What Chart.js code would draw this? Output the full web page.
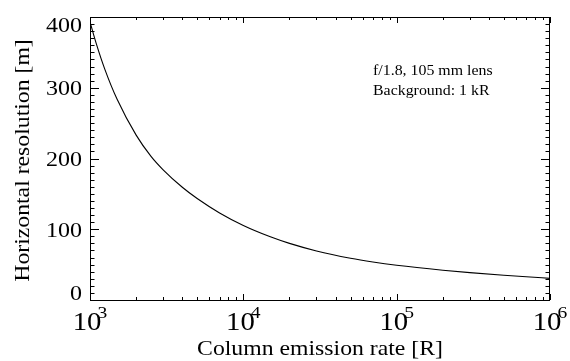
<!DOCTYPE html>
<html>
<head>
<meta charset="utf-8">
<script src="https://cdn.jsdelivr.net/npm/chart.js@4.4.1/dist/chart.umd.min.js"></script>
<style>
  html, body { margin: 0; padding: 0; background: #fff; }
  #wrap { width: 570px; height: 361px; font-family: "Liberation Serif", "Times New Roman", serif; }
</style>
</head>
<body>
<div id="wrap"><canvas id="chart" width="570" height="361"></canvas></div>
<script>
// ── data ──
const emission = [1000, 1100, 1250, 1500, 2000, 2500, 3000, 4000, 5000, 7000,
  10000, 15000, 20000, 30000, 50000, 70000, 100000, 200000, 300000, 500000, 700000, 1000000];
const resolution = [393, 362, 326, 284, 233, 203, 184, 159.3, 143.4, 123.0,
  105.3, 89.3, 80.0, 69.3, 59.0, 53.7, 49.1, 42.1, 38.7, 35.0, 32.8, 30.6];

const yTicks = [0, 100, 200, 300, 400];
const xDecades = [1e3, 1e4, 1e5, 1e6];
const xExponents = ["3", "4", "5", "6"];
const noteLines = ["f/1.8, 105 mm lens", "Background: 1 kR"];
const xTitle = "Column emission rate [R]";
const yTitle = "Horizontal resolution [m]";

const FONT = "'Liberation Serif', 'Times New Roman', Times, serif";

function txt(ctx, s, x, y, size, align, sx) {
  ctx.save();
  ctx.translate(x, y);
  ctx.scale(sx, 1);
  ctx.font = size + "px " + FONT;
  ctx.textAlign = align;
  ctx.textBaseline = "alphabetic";
  ctx.fillStyle = "#000";
  ctx.fillText(s, 0, 0);
  ctx.restore();
}

// IDL-style frame: box, inward ticks on all sides, labels
const idlAxes = {
  id: "idlAxes",
  afterDraw(chart) {
    const ctx = chart.ctx;
    const a = chart.chartArea;
    const xs = chart.scales.x;
    const ys = chart.scales.y;
    ctx.save();
    ctx.strokeStyle = "#000";
    ctx.lineWidth = 1;
    ctx.strokeRect(a.left + 0.5, a.top + 0.5, a.right - a.left - 1, a.bottom - a.top);

    ctx.beginPath();
    // y ticks (major every 100, minor every 10)
    for (let v = 0; v <= 400; v += 10) {
      const y = Math.round(ys.getPixelForValue(v)) + 0.5;
      const len = v % 100 === 0 ? 9 : 4.5;
      ctx.moveTo(a.left, y); ctx.lineTo(a.left + len, y);
      ctx.moveTo(a.right, y); ctx.lineTo(a.right - len, y);
    }
    // x ticks (decades major, 2..9 minor)
    xDecades.forEach((d) => {
      for (let k = 1; k <= 9; k++) {
        const v = d * k;
        if (v > 1e6) break;
        const x = Math.round(xs.getPixelForValue(v)) + 0.5;
        const len = k === 1 ? 6 : 3;
        ctx.moveTo(x, a.bottom); ctx.lineTo(x, a.bottom - len);
        ctx.moveTo(x, a.top); ctx.lineTo(x, a.top + len);
      }
    });
    ctx.stroke();

    // y tick labels
    yTicks.forEach((v) => {
      let y = ys.getPixelForValue(v) + 7.5;
      if (v === 0) y = a.bottom;
      if (v === 400) y = a.top + 14.5;
      txt(ctx, String(v), 82, y, 20, "right", 1.2);
    });

    // x tick labels 10^n
    xDecades.forEach((d, i) => {
      const x = xs.getPixelForValue(d);
      ctx.font = "25px " + FONT;
      const w10 = ctx.measureText("10").width * 1.15;
      ctx.font = "17px " + FONT;
      const we = ctx.measureText(xExponents[i]).width * 1.15;
      const left = x - (w10 + we - 4) / 2;
      txt(ctx, "10", left, 330, 25, "left", 1.15);
      txt(ctx, xExponents[i], left + w10 - 4, 318, 17, "left", 1.15);
    });

    // axis titles
    txt(ctx, xTitle, (a.left + a.right) / 2, 355, 21, "center", 1.13);
    ctx.save();
    ctx.translate(29, 160.5);
    ctx.rotate(-Math.PI / 2);
    txt(ctx, yTitle, 0, 0, 21, "center", 1.13);
    ctx.restore();

    // annotation
    txt(ctx, noteLines[0], 373, 75, 15, "left", 1.06);
    txt(ctx, noteLines[1], 373, 95, 15, "left", 1.06);
    ctx.restore();
  },
};

function build() {
  new Chart(document.getElementById("chart"), {
    type: "line",
    data: {
      datasets: [
        {
          data: emission.map((e, i) => ({ x: e, y: resolution[i] })),
          borderColor: "#000",
          borderWidth: 1.1,
          pointRadius: 0,
          cubicInterpolationMode: "monotone",
          fill: false,
        },
      ],
    },
    options: {
      responsive: false,
      animation: false,
      devicePixelRatio: 1,
      layout: { padding: { left: 90, right: 20, top: 17, bottom: 61 } },
      plugins: { legend: { display: false }, tooltip: { enabled: false } },
      scales: {
        x: { type: "logarithmic", min: 1000, max: 1000000, display: false },
        y: { type: "linear", min: 0, max: 400, display: false },
      },
    },
    plugins: [idlAxes],
  });
}

if (document.fonts && document.fonts.load) {
  document.fonts.load("20px 'Liberation Serif'").then(build, build);
} else {
  build();
}
</script>
</body>
</html>
